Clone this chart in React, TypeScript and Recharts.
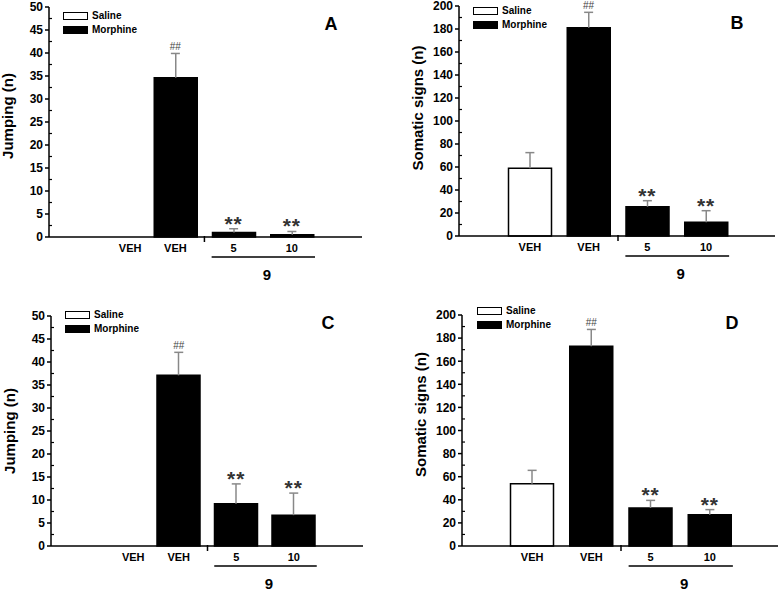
import React from 'react';
import { ComposedChart, Bar, Cell, ErrorBar, Scatter, XAxis, YAxis } from 'recharts';

const FONT = '"Liberation Sans", Arial, sans-serif';

// groups on the x axis
const groupKeys = ['salineVeh', 'morphineVeh', 'dose5', 'dose10'];
const groupLabels = ['VEH', 'VEH', '5', '10'];
const groupFills = ['#ffffff', '#000000', '#000000', '#000000'];
const groupMarks = ['', '##', '**', '**'];
const doseLabel = '9';
const legendItems = ['Saline', 'Morphine'];

// panel A - jumping
const jumpingA = [0, 34.6, 1.0, 0.5];
const jumpingAErr = [0, 5.3, 0.8, 0.7];
// panel B - somatic signs
const somaticB = [59, 181, 25.5, 12];
const somaticBErr = [13.5, 13.5, 5.2, 10];
// panel C - jumping
const jumpingC = [0, 37.1, 9.2, 6.7];
const jumpingCErr = [0, 5, 4.3, 4.8];
// panel D - somatic signs
const somaticD = [54, 173, 33, 27];
const somaticDErr = [11.5, 14.5, 6.5, 4.5];

const jumpingTicks = [0, 2.5, 5, 7.5, 10, 12.5, 15, 17.5, 20, 22.5, 25, 27.5, 30, 32.5, 35, 37.5, 40, 42.5, 45, 47.5, 50];
const somaticTicks = [0, 10, 20, 30, 40, 50, 60, 70, 80, 90, 100, 110, 120, 130, 140, 150, 160, 170, 180, 190, 200];

function buildRows(values: number[], errors: number[]) {
    return groupKeys.map((key, i) => ({
        key,
        value: values[i],
        err: [0, errors[i]],
        top: values[i] + errors[i],
        hasErr: errors[i] > 0,
        mark: groupMarks[i],
    }));
}

function YTick(props: any) {
    const { x, y, payload, step } = props;
    const v = payload.value;
    const major = Math.abs(v / step - Math.round(v / step)) < 1e-6;
    if (!major) {
        return <line x1={x} x2={x + 3} y1={y} y2={y} stroke="#000" strokeWidth={1.2} />;
    }
    return (
        <g>
            <line x1={x - 4} x2={x} y1={y} y2={y} stroke="#000" strokeWidth={1.5} />
            <text x={x - 6} y={y} dy="0.36em" textAnchor="end" fontSize={12} fontWeight="bold" fontFamily={FONT} fill="#000">
                {v}
            </text>
        </g>
    );
}

function XTick(props: any) {
    const { x, y, payload, band, firstShift } = props;
    const i = groupKeys.indexOf(payload.value);
    const label = (
        <text x={x + (i === 0 ? firstShift : 0)} y={y + 15} textAnchor="middle" fontSize={11} fontWeight="bold" fontFamily={FONT} fill="#000">
            {groupLabels[i]}
        </text>
    );
    if (i !== 2) return label;
    // dose group: separator tick, underline and compound label
    return (
        <g>
            {label}
            <line x1={x - band / 2} x2={x - band / 2} y1={y - 1} y2={y + 5} stroke="#000" strokeWidth={1.5} />
            <line x1={x - 22} x2={x + band + 23} y1={y + 20} y2={y + 20} stroke="#000" strokeWidth={1.5} />
            <text x={x + band / 2 + 4} y={y + 43} textAnchor="middle" fontSize={15} fontWeight="bold" fontFamily={FONT} fill="#000">
                {doseLabel}
            </text>
        </g>
    );
}

function YTitle(props: any) {
    const { viewBox, text, dy } = props;
    const cx = viewBox.x + viewBox.width - 42;
    const cy = viewBox.y + viewBox.height / 2 + dy;
    return (
        <text x={cx} y={cy} transform={`rotate(-90 ${cx} ${cy})`} textAnchor="middle" dominantBaseline="central"
            fontSize={15} fontWeight="bold" fontFamily={FONT} fill="#000">
            {text}
        </text>
    );
}

// error-bar cap plus significance mark, drawn at the top of the error bar
function Mark(props: any) {
    const { cx, cy, payload } = props;
    if (!payload) return null;
    return (
        <g>
            {payload.hasErr && <line x1={cx - 4.5} x2={cx + 4.5} y1={cy} y2={cy} stroke="#888" strokeWidth={1.5} />}
            {payload.mark === '##' && (
                <text x={cx} y={cy - 3} textAnchor="middle" fontSize={10} fontFamily={FONT} fill="#444">##</text>
            )}
            {payload.mark === '**' && (
                <text x={cx} y={cy + 2} textAnchor="middle" fontSize={21} fontWeight="bold" fontFamily={FONT} fill="#333" letterSpacing={1}>**</text>
            )}
        </g>
    );
}

function Panel(p: any) {
    const data = buildRows(p.values, p.errors);
    return (
        <div style={{ position: 'absolute', left: p.left, top: p.top, width: p.width, height: p.height }}>
            <ComposedChart width={p.width} height={p.height} data={data} margin={p.margin}>
                <XAxis dataKey="key" type="category" height={30} padding={p.padding} tickSize={0} tickMargin={0}
                    axisLine={{ stroke: '#000', strokeWidth: 1.5 }} interval={0}
                    tick={<XTick band={p.band} firstShift={p.firstShift} />} />
                <YAxis width={45} domain={[0, p.max]} ticks={p.ticks} interval={0} tickSize={0} tickMargin={0}
                    axisLine={{ stroke: '#000', strokeWidth: 1.5 }}
                    tick={<YTick step={p.step} />}
                    label={<YTitle text={p.title} dy={p.titleDy} />} />
                <Bar dataKey="value" barSize={43} stroke="#000" strokeWidth={1.5} isAnimationActive={false}>
                    {data.map((d, i) => <Cell key={d.key} fill={groupFills[i]} />)}
                    <ErrorBar dataKey="err" width={0} stroke="#888" strokeWidth={1.5} direction="y" />
                </Bar>
                <Scatter dataKey="top" isAnimationActive={false} shape={(s: any) => <Mark {...s} />} />
            </ComposedChart>
            {/* legend */}
            <div style={{ position: 'absolute', left: p.legend[0], top: p.legend[1], fontFamily: FONT, fontSize: 10, fontWeight: 'bold' }}>
                {legendItems.map((name, i) => (
                    <div key={name} style={{ position: 'absolute', left: 0, top: i * 14, height: 8, whiteSpace: 'nowrap' }}>
                        <div style={{ position: 'absolute', left: 0, top: 0, width: 25, height: 8, boxSizing: 'border-box', border: '1px solid #000', background: i === 0 ? '#fff' : '#000' }} />
                        <div style={{ position: 'absolute', left: 29, top: -3, lineHeight: '14px' }}>{name}</div>
                    </div>
                ))}
            </div>
            <div style={{ position: 'absolute', left: p.letter[0], top: p.letter[1], transform: 'translate(-50%, -50%)', fontFamily: FONT, fontSize: 18, fontWeight: 'bold', lineHeight: '18px' }}>
                {p.name}
            </div>
        </div>
    );
}

export default function App() {
    return (
        <div style={{ position: 'absolute', left: 0, top: 0, width: 780, height: 598, background: '#fff', overflow: 'hidden' }}>
            <Panel name="A" left={0} top={0} width={390} height={290}
                margin={{ top: 7, right: 28, bottom: 23, left: 4 }} padding={{ left: 39, right: 41 }} band={58.4} firstShift={13}
                values={jumpingA} errors={jumpingAErr} max={50} ticks={jumpingTicks} step={5}
                title="Jumping (n)" titleDy={-6} legend={[63, 12]} letter={[331, 24]} />
            <Panel name="B" left={390} top={0} width={390} height={290}
                margin={{ top: 6, right: 5, bottom: 24, left: 24 }} padding={{ left: 41.5, right: 39.5 }} band={58.75} firstShift={0}
                values={somaticB} errors={somaticBErr} max={200} ticks={somaticTicks} step={20}
                title="Somatic signs (n)" titleDy={-13} legend={[83, 7]} letter={[347, 23]} />
            <Panel name="C" left={0} top={290} width={390} height={308}
                margin={{ top: 26, right: 27, bottom: 22, left: 6 }} padding={{ left: 41.5, right: 40.5 }} band={57.5} firstShift={12}
                values={jumpingC} errors={jumpingCErr} max={50} ticks={jumpingTicks} step={5}
                title="Jumping (n)" titleDy={0} legend={[65, 21]} letter={[328, 33]} />
            <Panel name="D" left={390} top={290} width={390} height={308}
                margin={{ top: 25, right: 2, bottom: 22, left: 27 }} padding={{ left: 40.5, right: 38.5 }} band={59.25} firstShift={0}
                values={somaticD} errors={somaticDErr} max={200} ticks={somaticTicks} step={20}
                title="Somatic signs (n)" titleDy={-16} legend={[87, 17]} letter={[342, 33]} />
        </div>
    );
}
